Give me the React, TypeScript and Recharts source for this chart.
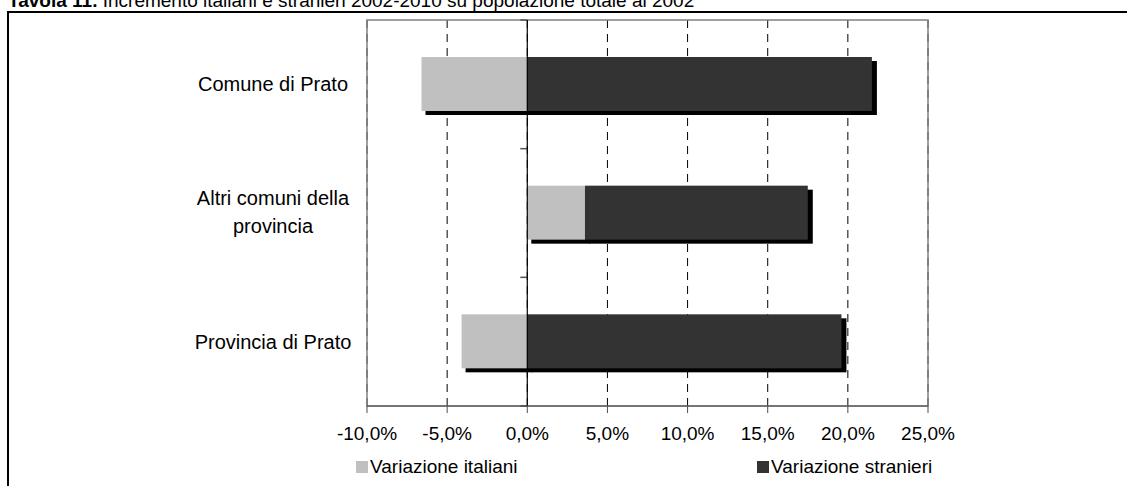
import React from "react"
import { Bar, BarChart, CartesianGrid, ReferenceArea, ReferenceLine, XAxis, YAxis } from "recharts"

const categories = ["Comune di Prato", "Altri comuni della\nprovincia", "Provincia di Prato"]
const italiani = [-6.6, 3.6, -4.1]
const stranieri = [21.5, 13.9, 19.6]
const seriesNames = ["Variazione italiani", "Variazione stranieri"]
const seriesColors = ["#c0c0c0", "#333333"]
const xTicks = [-10, -5, 0, 5, 10, 15, 20, 25]

const data = categories.map((name, i) => ({
  name,
  italiani: italiani[i],
  stranieri: stranieri[i],
}))

const FONT = "'Liberation Sans', Arial, sans-serif"

function ShadowBar(props: any) {
  const { x, y, width, height, fill } = props
  const x0 = width < 0 ? x + width : x
  const w = Math.abs(width)
  return (
    <g>
      <rect x={x0 + 4} y={y + 4} width={w + 1} height={height} fill="#000" />
      <rect x={x0} y={y} width={w} height={height} fill={fill} />
    </g>
  )
}

function CatTick(props: any) {
  const { x, y, payload } = props
  const lines = String(payload.value).split("\n")
  const lh = 28
  const top = y - ((lines.length - 1) * lh) / 2 - (lines.length > 1 ? 1 : 0)
  const cx = x - 86
  return (
    <text x={cx} textAnchor="middle" fontSize={20} fontFamily={FONT} fill="#000">
      {lines.map((l, i) => (
        <tspan key={i} x={cx} y={top + i * lh} dy="0.35em">
          {l}
        </tspan>
      ))}
    </text>
  )
}

// zero axis with tick marks on category boundaries
function ZeroAxis(props: any) {
  const { x1, y1, y2 } = props
  const n = categories.length
  const marks = []
  for (let i = 0; i <= n; i++) {
    const yy = y1 + ((y2 - y1) * i) / n
    marks.push(<line key={i} x1={x1 - 7} x2={x1} y1={yy} y2={yy} stroke="#555" strokeWidth={1.5} />)
  }
  return (
    <g>
      {marks}
      <line x1={x1} x2={x1} y1={y1} y2={y2} stroke="#000" strokeWidth={1.2} />
    </g>
  )
}

const fmt = (v: number) => v.toFixed(1).replace(".", ",") + "%"

export default function App() {
  return (
    <div style={{ position: "absolute", left: 0, top: 0, width: 1127, height: 486, overflow: "hidden", background: "#fff", fontFamily: FONT }}>
      <div style={{ position: "absolute", left: 8, top: -9, fontSize: 19, lineHeight: "19px", whiteSpace: "nowrap", color: "#000" }}>
        <b>Tavola 11.</b> Incremento italiani e stranieri 2002-2010 su popolazione totale al 2002
      </div>
      <div style={{ position: "absolute", left: 7, top: 11, width: 1200, height: 600, borderLeft: "2px solid #000", borderTop: "2px solid #000" }} />
      <div style={{ position: "absolute", left: 0, top: 0 }}>
        <BarChart
          width={1127}
          height={486}
          data={data}
          layout="vertical"
          stackOffset="sign"
          barSize={54}
          margin={{ top: 20, right: 199, bottom: 50, left: 0 }}
        >
          <CartesianGrid horizontal={false} stroke="#000" strokeDasharray="8 6" />
          <XAxis
            type="number"
            domain={[-10, 25]}
            ticks={xTicks}
            tickFormatter={fmt}
            height={30}
            stroke="#4d4d4d"
            tickSize={7}
            tickMargin={14}
            tick={{ fill: "#000", fontSize: 19, fontFamily: FONT }}
            interval={0}
          />
          <YAxis type="category" dataKey="name" width={367} axisLine={false} tickLine={false} tick={<CatTick />} />
          <ReferenceArea x1={-10} x2={25} fill="none" stroke="#808080" strokeWidth={1.5} ifOverflow="extendDomain" />
          <Bar dataKey="italiani" name={seriesNames[0]} stackId="a" fill={seriesColors[0]} shape={<ShadowBar />} isAnimationActive={false} />
          <Bar dataKey="stranieri" name={seriesNames[1]} stackId="a" fill={seriesColors[1]} shape={<ShadowBar />} isAnimationActive={false} />
          <ReferenceLine x={0} shape={(p: any) => <ZeroAxis {...p} />} />
        </BarChart>
      </div>
      {seriesNames.map((s, i) => (
        <div
          key={s}
          style={{ position: "absolute", left: i === 0 ? 356 : 757, top: 456, display: "flex", alignItems: "center", fontSize: 19, lineHeight: "22px", whiteSpace: "nowrap" }}
        >
          <span style={{ display: "inline-block", width: 12, height: 12, background: seriesColors[i], marginRight: 2 }} />
          {s}
        </div>
      ))}
    </div>
  )
}
